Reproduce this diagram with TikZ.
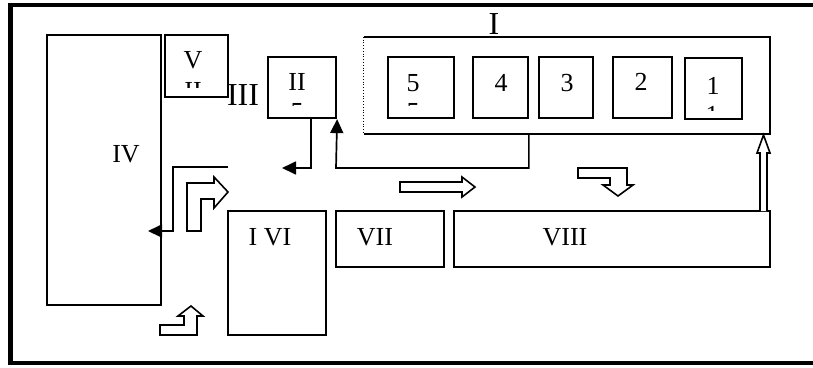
\documentclass[tikz,border=0pt]{standalone}
\usepackage{fontspec}
\setmainfont{Liberation Serif}
\usetikzlibrary{arrows.meta}

\tikzset{
  box/.style={draw, line width=1.7pt, inner sep=0pt},
  heavybox/.style={box, line width=2.2pt},
  boxsize/.style 2 args={minimum width=#1pt, minimum height=#2pt},
  lbl/.style={inner sep=0pt, font=\fontsize{26}{31}\selectfont},
  biglbl/.style={inner sep=0pt, font=\fontsize{32}{38}\selectfont},
  feed/.style={line width=1.7pt, -{Triangle[length=14pt,width=13pt]}},
  hollow/.style={draw, line width=1.6pt, fill=white},
  frame/.style={line width=4.5pt},
}

% top of a cut-off second text line
\newcommand\cuttop[4]{%
  \begin{scope}
    \clip (#1-15,#2-1) rectangle (#1+15,#2+#3);
    \node[lbl, anchor=north] at (#1,#2) {#4};
  \end{scope}}

\begin{document}
\begin{tikzpicture}[x=1pt, y=-1pt]
  \useasboundingbox (0,0) rectangle (813,367);

  % frame
  \draw[frame] (830,5) -- (10.5,5) -- (10.5,363) -- (830,363);

  % IV, V, III, II
  \node[box, boxsize={114}{270}] (IV) at (104,170) {};
  \node[lbl] (IVlbl) at (126,154) {IV};
  \node[heavybox, boxsize={63}{62}] (V) at (196.5,66) {};
  \node[lbl] (Vlbl) at (193,60) {V};
  \cuttop{193}{82}{5}{II}
  \node[biglbl] (IIIlbl) at (243,95) {III};
  \node[heavybox, boxsize={68}{61}] (II) at (302,87.5) {};
  \node[lbl] (IIlbl) at (297,82) {II};
  \cuttop{297}{103}{2.5}{5}

  % I
  \node[boxsize={406}{97}, inner sep=0pt] (I) at (567,85.5) {};
  \draw[box] (I.north west) -- (I.north east) -- (I.south east) -- (I.south west);
  \draw[line width=0.8pt, dotted] (I.north west) -- (I.south west);
  \node[biglbl] (Ilbl) at (494,24) {I};
  \node[box, boxsize={66}{61}] (b5) at (421,87.5) {};
  \node[box, boxsize={55}{61}] (b4) at (500.5,87.5) {};
  \node[box, boxsize={54}{61}] (b3) at (566,87.5) {};
  \node[box, boxsize={59}{61}] (b2) at (642.5,87.5) {};
  \node[box, boxsize={57}{61}] (b1) at (713.5,88.5) {};
  \node[lbl] (b5lbl) at (413,83) {5};
  \node[lbl] (b4lbl) at (501,83) {4};
  \node[lbl] (b3lbl) at (567,83) {3};
  \node[lbl] (b2lbl) at (641,82) {2};
  \node[lbl] (b1lbl) at (713,86) {1};
  \cuttop{413}{103}{2.5}{5}
  \cuttop{712}{106}{4}{1}

  % VI, VII, VIII
  \node[box, boxsize={98}{124}] (VI) at (277,273) {};
  \node[lbl] (VIlbl) at (270,237) {I VI};
  \node[box, boxsize={108}{56}] (VII) at (390,239) {};
  \node[lbl] (VIIlbl) at (375,237) {VII};
  \node[box, boxsize={316}{56}] (VIII) at (612,239) {};
  \node[lbl] (VIIIlbl) at (565,237) {VIII};

  % connectors
  \coordinate (lane) at (336,168);
  \coordinate (IIend) at (282,168);
  \coordinate (IVstart) at (228,167);
  \coordinate (IVend) at (148,231);
  \draw[feed] (b4.east |- I.south) |- (lane) -- (II.south east);
  \draw[feed] ([xshift=9pt]II.south) |- (IIend);
  \draw[feed] (IVstart) -- (173,167) |- (IVend);

  % hollow arrows
  \draw[hollow] (187,231) -- (187,183) -- (214,183) -- (214,177) -- (228,192)
    -- (214,208) -- (214,199) -- (201,199) -- (201,231) -- cycle;
  \draw[hollow] (160,335) -- (197,335) -- (197,316) -- (203,316) -- (191,306)
    -- (178,316) -- (184,316) -- (184,325) -- (160,325) -- cycle;
  \draw[hollow] (400,182) -- (462,182) -- (462,177) -- (475,187) -- (462,197)
    -- (462,192) -- (400,192) -- cycle;
  \draw[hollow] (578,168) -- (627,168) -- (627,185) -- (633,185) -- (618,196)
    -- (603,185) -- (610,185) -- (610,178) -- (578,178) -- cycle;
  \draw[hollow] (760,211) -- (760,153) -- (757,153) -- (763.5,135) -- (770,153)
    -- (767,153) -- (767,211);
\end{tikzpicture}
\end{document}
